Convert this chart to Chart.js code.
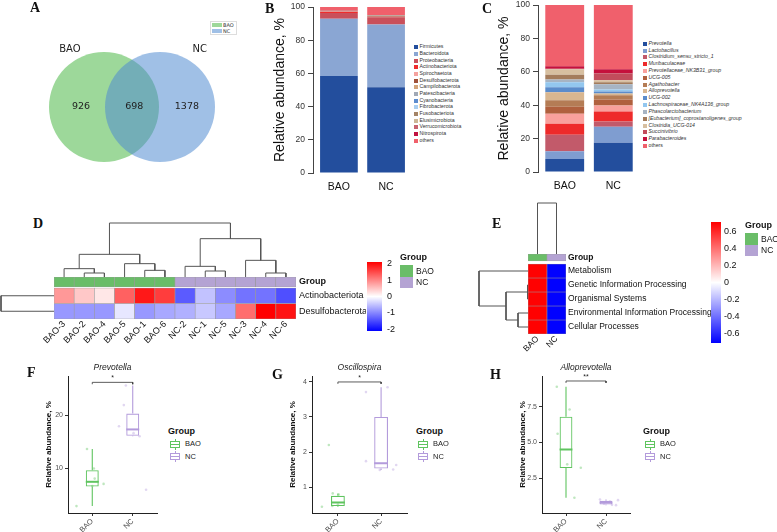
<!DOCTYPE html>
<html>
<head>
<meta charset="utf-8">
<title>BAO vs NC microbiota</title>
<script src="https://cdn.jsdelivr.net/npm/chart.js@4.4.1/dist/chart.umd.min.js"></script>
<style>
  html, body { margin: 0; padding: 0; background: #fff; }
  #stage { position: relative; width: 777px; height: 532px; overflow: hidden;
           font-family: "Liberation Sans", Arial, Helvetica, sans-serif; color: #222; }
  #stage canvas { position: absolute; }
</style>
</head>
<body>
<div id="stage"></div>
<script>
// ---------- data ----------
const groups = ["BAO", "NC"];

// A: shared / unique features
const vennSets = ["BAO", "NC"];
const vennCounts = [926, 698, 1378]; // BAO only, shared, NC only

// B: phylum composition (%)
const phyla = ["Firmicutes", "Bacteroidota", "Proteobacteria", "Actinobacteriota", "Spirochaetota",
  "Desulfobacterota", "Campilobacterota", "Patescibacteria", "Cyanobacteria", "Fibrobacterota",
  "Fusobacteriota", "Elusimicrobiota", "Verrucomicrobiota", "Nitrospirota", "others"];
const phylaBAO = [58.5, 34.4, 3.5, 0.8, 0.1, 0.1, 0.1, 0.05, 0.05, 0.05, 0.05, 0.05, 0.05, 0.05, 2.15];
const phylaNC = [51.6, 37.9, 4.3, 0.2, 0.1, 0.6, 0.2, 0.05, 0.05, 0.05, 0.05, 0.05, 0.05, 0.05, 4.75];
const phylaColors = ["#234e9d", "#8aa6d3", "#c9505b", "#ef2c2c", "#f5a29e", "#a0523a", "#d3a47a",
  "#a0a9b6", "#5d8dcf", "#a9cff1", "#a48466", "#ccb696", "#c8636f", "#c1123f", "#f0606b"];

// C: genus composition (%)
const genera = ["Prevotella", "Lactobacillus", "Clostridium_sensu_stricto_1", "Muribaculaceae",
  "Prevotellaceae_NK3B31_group", "UCG-005", "Agathobacter", "Alloprevotella", "UCG-002",
  "Lachnospiraceae_NK4A136_group", "Phascolarctobacterium", "[Eubacterium]_coprostanoligenes_group",
  "Clostridia_UCG-014", "Succinivibrio", "Parabacteroides", "others"];
const generaBAO = [7.8, 4.7, 9.8, 6.6, 6.0, 4.1, 4.0, 4.8, 3.0, 3.0, 1.6, 2.8, 3.4, 0.3, 1.4, 36.7];
const generaNC = [17.5, 9.6, 3.2, 6.0, 3.5, 3.6, 2.6, 1.0, 1.2, 1.2, 3.2, 1.2, 1.2, 4.0, 2.6, 38.4];
const generaColors = ["#234e9d", "#7f9dd0", "#c25a6a", "#ee2a2a", "#f9a09c", "#b0603e", "#b47c55",
  "#d8b690", "#5b8ccb", "#93c7ef", "#a7b4c3", "#a47c5c", "#d7bfa0", "#c24c5c", "#c5103c", "#f0606c"];

// D: phylum z-scores per sample
const dSamples = ["BAO-3", "BAO-2", "BAO-4", "BAO-5", "BAO-1", "BAO-6", "NC-2", "NC-1", "NC-5", "NC-3", "NC-4", "NC-6"];
const dSampleGroups = ["BAO", "BAO", "BAO", "BAO", "BAO", "BAO", "NC", "NC", "NC", "NC", "NC", "NC"];
const dTaxa = ["Actinobacteriota", "Desulfobacterota"];
const dActino = [0.85, 0.45, 0.2, 1.3, 1.9, 1.6, -1.35, -0.5, -0.95, -1.15, -1.15, -1.45];
const dDesulfo = [-0.85, -0.85, -0.85, -0.2, -0.85, -0.72, -0.65, -0.45, -0.72, 1.2, 2.1, 1.95];
// trees: [left, right, merge height]
const dColTree = [[["BAO-3", ["BAO-2", "BAO-4", 12], 25], ["BAO-5", ["BAO-1", "BAO-6", 20], 40], 68],
                  [["NC-2", ["NC-1", "NC-5", 18], 32], ["NC-3", ["NC-4", "NC-6", 12], 50], 115], 162];
const dRowTree = ["Actinobacteriota", "Desulfobacterota", 1];
const dScaleTicks = [-2, -1, 0, 1, 2];

// E: KEGG level 1 z-scores
const ePathways = ["Metabolism", "Genetic Information Processing", "Organismal Systems",
  "Environmental Information Processing", "Cellular Processes"];
const eBAO = [0.707, 0.707, 0.707, 0.707, 0.707];
const eNC = [-0.707, -0.707, -0.707, -0.707, -0.707];
const eRowTree = ["Metabolism", [["Genetic Information Processing", "Organismal Systems", 0.5],
                  ["Environmental Information Processing", "Cellular Processes", 10], 22], 49];
const eColTree = ["BAO", "NC", 1];
const eScaleTicks = [-0.6, -0.4, -0.2, 0, 0.2, 0.4, 0.6];

// F-H: relative abundance (%) per sample, and box stats [low whisker, q1, median, q3, high whisker]
const prevBAO = [2.8, 13.6, 9.9, 8.0, 7.0, 6.6];
const prevNC = [25.6, 21.9, 17.9, 16.0, 5.9, 16.6];
const prevBoxBAO = [2.8, 6.5, 7.4, 9.6, 13.6];
const prevBoxNC = [16.0, 16.1, 17.3, 20.3, 25.6];
const prevTicks = [10, 20];

const oscBAO = [0.44, 2.2, 0.82, 0.79, 0.46, 0.5];
const oscNC = [3.71, 3.85, 1.74, 1.49, 1.5, 1.63];
const oscBoxBAO = [0.44, 0.46, 0.56, 0.75, 0.82];
const oscBoxNC = [1.49, 1.53, 1.68, 3.0, 3.85];
const oscTicks = [1, 2, 3, 4];

const alloBAO = [8.9, 7.3, 5.6, 3.46, 3.22, 1.12];
const alloNC = [1.0, 0.6, 0.85, 0.7, 0.95, 0.62];
const alloBoxBAO = [1.12, 3.2, 4.5, 6.8, 8.9];
const alloBoxNC = [0.6, 0.64, 0.78, 0.9, 1.0];
const alloTicks = [2.5, 5.0, 7.5];
const alloTickLabels = ["2.5", "5.0", "7.5"];

// jitter offsets of the sample points (x units)
const prevJitter = [[-0.39, -0.13, 0.04, 0.06, 0.28, 0.0], [-0.17, -0.22, -0.34, 0.17, 0.33, 0.02]];
const oscJitter = [[-0.37, -0.21, -0.12, 0.02, -0.13, 0.0], [-0.35, 0.15, -0.35, -0.03, 0.28, 0.35]];
const alloJitter = [[-0.23, 0.09, -0.21, 0.03, 0.37, 0.21], [-0.15, 0.25, 0.1, -0.05, 0.3, 0.15]];

// ---------- helpers ----------
const GREEN = "#5fc45f", PURPLE = "#b39bdb";
const annColors = ["#6abd68", "#b4a3d3"];
const SANS = '"Liberation Sans", Arial, Helvetica, sans-serif';
const stage = document.getElementById("stage");

Chart.defaults.font.family = SANS;
Chart.defaults.color = "#222";
Chart.defaults.animation = false;
Chart.defaults.responsive = false;
Chart.defaults.plugins.legend.display = false;
Chart.defaults.plugins.tooltip.enabled = false;

function mount(area, pad) {
  const c = document.createElement("canvas");
  const w = Math.round(area[2] - area[0] + pad[0] + pad[2]);
  const h = Math.round(area[3] - area[1] + pad[1] + pad[3]);
  c.width = w; c.height = h;
  c.style.left = (area[0] - pad[0]) + "px";
  c.style.top = (area[1] - pad[1]) + "px";
  c.style.width = w + "px";
  c.style.height = h + "px";
  stage.appendChild(c);
  return c;
}

// force an axis to a fixed thickness so the plot area lands where we want it
function fixAxis(size) {
  return (scale) => {
    if (scale.isHorizontal()) scale.height = size; else scale.width = size;
    scale.paddingLeft = scale.paddingRight = scale.paddingTop = scale.paddingBottom = 0;
  };
}

function textLayer(items) {
  return {
    id: "textLayer",
    afterDatasetsDraw(chart) {
      const c = chart.ctx, xs = chart.scales.x, ys = chart.scales.y;
      items.forEach((t) => {
        c.save();
        c.font = t.font;
        c.fillStyle = t.color || "#222";
        c.textAlign = "center";
        c.textBaseline = "middle";
        c.fillText(t.text, xs.getPixelForValue(t.x) + (t.dx || 0), ys.getPixelForValue(t.y) + (t.dy || 0));
        c.restore();
      });
    }
  };
}

function fade(hex, a) {
  const n = parseInt(hex.slice(1), 16);
  return `rgba(${n >> 16},${(n >> 8) & 255},${n & 255},${a})`;
}

function heatColor(v, lim) {
  const t = Math.max(-1, Math.min(1, v / lim));
  if (t >= 0) { const g = Math.round(255 * (1 - t)); return `rgb(255,${g},${g})`; }
  const g = Math.round(255 * (1 + t));
  return `rgb(${g},${g},255)`;
}

function div(x, y, css, text) {
  const d = document.createElement("div");
  d.style.cssText = "position:absolute;left:" + x + "px;top:" + y + "px;" + css;
  if (text != null) d.textContent = text;
  stage.appendChild(d);
  return d;
}
function textAt(x, yMid, text, css) {
  return div(x, yMid, "transform:translateY(-50%);line-height:1;white-space:nowrap;" + (css || ""), text);
}

// ---------- A: Venn ----------
function drawVenn() {
  const area = [20, 51, 244, 163], pad = [20, 51, 16, 17];
  const cv = mount(area, pad);
  new Chart(cv, {
    type: "bubble",
    data: {
      datasets: [
        { label: vennSets[0], data: [{ x: 1, y: 0 }], radius: 55, hoverRadius: 0,
          backgroundColor: "rgba(116,199,111,0.7)", borderWidth: 0, order: 2, clip: false },
        { label: vennSets[1], data: [{ x: 2, y: 0 }], radius: 55, hoverRadius: 0,
          backgroundColor: "rgba(79,138,209,0.54)", borderWidth: 0, order: 1, clip: false }
      ]
    },
    options: {
      layout: { autoPadding: false, padding: { left: pad[0], top: pad[1], right: pad[2], bottom: pad[3] } },
      scales: { x: { display: false, min: -0.5, max: 3.5 }, y: { display: false, min: -1, max: 1 } }
    },
    plugins: [textLayer([
      { x: 0.39, y: 1.02, text: vennSets[0], font: '10px "DejaVu Sans", sans-serif' },
      { x: 2.71, y: 1.02, text: vennSets[1], font: '10px "DejaVu Sans", sans-serif' },
      { x: 0.59, y: 0, text: String(vennCounts[0]), font: '9.5px "DejaVu Sans", sans-serif' },
      { x: 1.54, y: 0, text: String(vennCounts[1]), font: '9.5px "DejaVu Sans", sans-serif' },
      { x: 2.48, y: 0, text: String(vennCounts[2]), font: '9.5px "DejaVu Sans", sans-serif' }
    ])]
  });
  div(210, 21, "width:27px;height:14px;border:0.5px solid #ddd;box-sizing:border-box;background:#fff");
  ["rgb(158,216,154)", "rgb(160,192,230)"].forEach((c, i) => {
    div(211.5, 23 + i * 6.3, `width:10px;height:3.8px;background:${c}`);
    textAt(223, 25 + i * 6.3, vennSets[i], "font:5px 'DejaVu Sans',sans-serif;color:#333");
  });
}

// ---------- B, C: stacked composition ----------
function stackChart(area, pad, names, a, b, colors, titlePad) {
  const cv = mount(area, pad);
  new Chart(cv, {
    type: "bar",
    data: {
      datasets: names.map((n, i) => ({
        label: n,
        data: [{ x: 1, y: a[i] }, { x: 2, y: b[i] }],
        backgroundColor: colors[i], borderWidth: 0,
        barPercentage: 0.8, categoryPercentage: 1
      }))
    },
    options: {
      layout: { autoPadding: false, padding: { left: 0, top: pad[1], right: pad[2], bottom: 0 } },
      scales: {
        x: {
          type: "linear", stacked: true, min: 0.45, max: 2.55, offset: false,
          afterBuildTicks: (s) => { s.ticks = groups.map((g, i) => ({ value: i + 1 })); },
          ticks: { callback: (v) => groups[Math.round(v) - 1], font: { size: 10.5 }, color: "#111", padding: 7.5 },
          grid: { display: false, drawTicks: false, offset: false }, border: { display: false },
          afterFit: fixAxis(pad[3])
        },
        y: {
          stacked: true, min: 0, max: 100,
          ticks: { stepSize: 20, font: { size: 8.5 }, color: "#333", padding: 3 },
          grid: { drawOnChartArea: false, tickLength: 5, color: "#444" },
          border: { color: "#444" },
          title: { display: true, text: "Relative abundance, %", font: { size: 14 }, color: "#111",
                   padding: { top: titlePad, bottom: 0 } },
          afterFit: fixAxis(pad[0])
        }
      }
    }
  });
}

function stackLegend(x, y0, step, names, colors, italic) {
  names.forEach((n, i) => {
    const y = y0 + i * step;
    div(x, y - 2, `width:4px;height:4px;background:${colors[i]}`);
    textAt(x + 5.5, y, n, "font-size:5.2px;color:#333;" + (italic && n !== "others" ? "font-style:italic;" : ""));
  });
}

// ---------- D, E: heatmaps ----------
function treeSegments(tree) {
  const leaves = [], segs = [];
  (function walk(node) {
    if (!Array.isArray(node)) { leaves.push(node); return { p: leaves.length - 1, h: 0 }; }
    const a = walk(node[0]), b = walk(node[1]), h = node[2];
    segs.push([[a.p, a.h], [a.p, h], [b.p, h], [b.p, b.h]]);
    return { p: (a.p + b.p) / 2, h };
  })(tree);
  return { segs, leaves };
}

function dendro(area, tree, horizontal) {
  const { segs, leaves } = treeSegments(tree);
  const cv = mount(area, [3, 3, 3, 3]);
  const pos = { display: false, min: -0.5, max: leaves.length - 0.5 };
  const hgt = { display: false, min: 0, max: tree[2] };
  new Chart(cv, {
    type: "scatter",
    data: {
      datasets: segs.map((s) => ({
        data: s.map(([p, h]) => horizontal ? { x: h, y: p } : { x: p, y: h }),
        showLine: true, borderColor: "#555", borderWidth: 1, pointRadius: 0, clip: false
      }))
    },
    options: {
      layout: { autoPadding: false, padding: 3 },
      scales: horizontal
        ? { x: Object.assign({ reverse: true }, hgt), y: Object.assign({ reverse: true }, pos) }
        : { x: pos, y: hgt }
    }
  });
}

function heatChart(o) {
  const n = o.rows.length;
  const top = n + o.gap + o.groupH;
  const datasets = [{
    label: "Group",
    data: o.cols.map(() => [n + o.gap, top]),
    backgroundColor: o.colGroups.map((g) => annColors[groups.indexOf(g)])
  }];
  o.rows.forEach((r, i) => datasets.push({
    label: r,
    data: o.cols.map(() => [n - 1 - i, n - i]),
    backgroundColor: o.matrix[i].map((v) => heatColor(v, o.lim))
  }));
  datasets.forEach((d) => Object.assign(d, {
    grouped: false, barPercentage: 1, categoryPercentage: 1,
    borderWidth: 0.6, borderColor: "#9a9a9a", borderSkipped: false
  }));
  const centers = o.rows.map((r, i) => n - 0.5 - i).concat([n + o.gap + o.groupH / 2]);
  const names = o.rows.concat(["Group"]);
  const cv = mount(o.area, o.pad);
  new Chart(cv, {
    type: "bar",
    data: { labels: o.cols, datasets },
    options: {
      layout: { autoPadding: false, padding: { left: o.pad[0], top: o.pad[1], right: 0, bottom: 0 } },
      scales: {
        x: {
          ticks: { minRotation: 45, maxRotation: 45, autoSkip: false, font: { size: o.font }, color: "#111", padding: 0 },
          grid: { display: false, drawTicks: false }, border: { display: false },
          afterFit: fixAxis(o.pad[3])
        },
        y: {
          position: "right", min: 0, max: top,
          afterBuildTicks: (s) => { s.ticks = centers.map((v) => ({ value: v })); },
          ticks: {
            autoSkip: false, padding: o.labelPad, color: "#111",
            callback: (v, i) => names[i],
            font: (ctx) => ({ size: o.font, weight: ctx.index === names.length - 1 ? "bold" : "normal" })
          },
          grid: { display: false, drawTicks: false }, border: { display: false },
          afterFit: fixAxis(o.pad[2])
        }
      }
    }
  });
}

function colorBar(area, pad, lim, ticks, labelPad) {
  const cv = mount(area, pad);
  new Chart(cv, {
    type: "bar",
    data: {
      labels: [""],
      datasets: [{
        data: [[-lim, lim]], barPercentage: 1, categoryPercentage: 1, borderWidth: 0,
        backgroundColor: (ctx) => {
          const chart = ctx.chart, s = chart.scales.y;
          if (!chart.chartArea || !s) return "#fff";
          const g = chart.ctx.createLinearGradient(0, s.getPixelForValue(-lim), 0, s.getPixelForValue(lim));
          g.addColorStop(0, "rgb(0,0,255)");
          g.addColorStop(0.5, "rgb(255,255,255)");
          g.addColorStop(1, "rgb(255,0,0)");
          return g;
        }
      }]
    },
    options: {
      layout: { autoPadding: false, padding: { left: pad[0], top: pad[1], right: 0, bottom: pad[3] } },
      scales: {
        x: { display: false },
        y: {
          position: "right", min: -lim, max: lim,
          afterBuildTicks: (s) => { s.ticks = ticks.map((v) => ({ value: v })); },
          ticks: { autoSkip: false, font: { size: 9 }, color: "#111", padding: labelPad, callback: (v) => String(v) },
          grid: { display: false, drawTicks: false }, border: { display: false },
          afterFit: fixAxis(pad[2])
        }
      }
    }
  });
}

function groupLegend(x, y) {
  textAt(x, y, "Group", "font:bold 9px " + SANS + ";color:#111");
  groups.forEach((g, i) => {
    div(x, y + 8 + i * 11.5, `width:13px;height:11.5px;background:${annColors[i]}`);
    textAt(x + 16, y + 13.8 + i * 11.5, g, "font-size:8.5px;color:#111");
  });
}

// ---------- F-H: box plots ----------
function boxChart(o) {
  const pad = [30, 16, 4, 19];
  const cv = mount(o.area, pad);
  const colors = [GREEN, PURPLE];
  const half = 0.16, drop = (o.yMax - o.yMin) * 0.014;
  const seg = (pts, color, w) => ({
    type: "scatter", data: pts, showLine: true, borderColor: color, borderWidth: w,
    pointRadius: 0, clip: false, order: 2
  });
  const ds = [{
    type: "bar",
    data: o.boxes.map((b, g) => ({ x: g + 1, y: [b[1], b[3]] })),
    backgroundColor: "rgba(255,255,255,0)", borderColor: colors, borderWidth: 1.1,
    borderSkipped: false, barPercentage: 0.32, categoryPercentage: 1, order: 1
  }];
  o.boxes.forEach((b, g) => {
    const x = g + 1;
    ds.push(seg([{ x, y: b[0] }, { x, y: b[1] }], colors[g], 1.1));
    ds.push(seg([{ x, y: b[3] }, { x, y: b[4] }], colors[g], 1.1));
    ds.push(seg([{ x: x - half, y: b[2] }, { x: x + half, y: b[2] }], colors[g], 2));
  });
  o.points.forEach((p, g) => ds.push({
    type: "scatter", data: p.map((v, i) => ({ x: g + 1 + o.jitter[g][i], y: v })),
    pointRadius: 1.3, backgroundColor: fade(colors[g], 0.4), borderWidth: 0, order: 3
  }));
  ds.push(seg([{ x: 1, y: o.bracket - drop }, { x: 1, y: o.bracket }, { x: 2, y: o.bracket }, { x: 2, y: o.bracket - drop }], "#333", 0.8));

  new Chart(cv, {
    type: "bar",
    data: { datasets: ds },
    options: {
      layout: { autoPadding: false, padding: { left: 0, top: pad[1], right: pad[2], bottom: 0 } },
      scales: {
        x: {
          type: "linear", min: 0.4, max: 2.6, offset: false,
          afterBuildTicks: (s) => { s.ticks = groups.map((g, i) => ({ value: i + 1 })); },
          ticks: { callback: (v) => groups[Math.round(v) - 1], minRotation: 45, maxRotation: 45, autoSkip: false,
                   font: { size: 7.5 }, color: "#4d4d4d", padding: 1 },
          grid: { drawOnChartArea: false, tickLength: 3, color: "#333", offset: false }, border: { color: "#222" },
          afterFit: fixAxis(pad[3])
        },
        y: {
          min: o.yMin, max: o.yMax,
          afterBuildTicks: (s) => { s.ticks = o.ticks.map((v) => ({ value: v })); },
          ticks: { callback: (v, i) => o.tickLabels[i], font: { size: 7 }, color: "#4d4d4d", padding: 2 },
          grid: { drawOnChartArea: false, tickLength: 3, color: "#333" }, border: { color: "#222" },
          title: { display: true, text: "Relative abundance, %", font: { size: 8, weight: "bold" }, color: "#111",
                   padding: { top: 6, bottom: 0 } },
          afterFit: fixAxis(pad[0])
        }
      }
    },
    plugins: [textLayer([
      { x: 1.5, y: o.yMax, dy: -8, text: o.title, font: "italic 8.5px " + SANS },
      { x: 1.5, y: o.bracket, dy: -4, text: o.sig, font: "7px " + SANS }
    ])]
  });
}

function boxLegend(x) {
  textAt(x, 431, "Group", "font:bold 9px " + SANS + ";color:#111");
  [GREEN, PURPLE].forEach((c, i) => {
    const y = 444 + i * 12.5;
    div(x + 2, y - 3.5, `width:8px;height:5px;border:1px solid ${c}`);
    div(x + 2, y - 0.5, `width:10px;height:1px;background:${c}`);
    div(x + 6.5, y - 5.5, `width:1px;height:2px;background:${c}`);
    div(x + 6.5, y + 3.5, `width:1px;height:2px;background:${c}`);
    textAt(x + 17, y, groups[i], "font-size:7.5px;color:#222");
  });
}

// ---------- build ----------
drawVenn();

stackChart([313, 7, 412, 173], [42, 6, 2, 22], phyla, phylaBAO, phylaNC, phylaColors, 1);
stackLegend(414, 47.3, 6.67, phyla, phylaColors, false);
stackChart([538, 5, 640, 172], [42, 5, 3, 22], genera, generaBAO, generaNC, generaColors, 0);
stackLegend(643, 43.7, 6.82, genera, generaColors, true);

dendro([54, 223, 296, 277], dColTree, false);
dendro([1, 288, 54, 319], dRowTree, true);
heatChart({
  area: [54, 277, 296, 319], pad: [18, 2, 70, 40], cols: dSamples, colGroups: dSampleGroups,
  rows: dTaxa, matrix: [dActino, dDesulfo], lim: 2.1, gap: 0.065, groupH: 0.645, font: 9, labelPad: 3
});
colorBar([367, 262, 382, 331], [2, 6, 25, 6], 2.1, dScaleTicks, 5);
groupLegend(400, 257);

dendro([528, 203, 566, 254], eColTree, false);
dendro([479, 264, 528, 334], eRowTree, true);
heatChart({
  area: [528, 254, 566, 334], pad: [14, 2, 150, 30], cols: groups, colGroups: groups,
  rows: ePathways, matrix: ePathways.map((p, i) => [eBAO[i], eNC[i]]), lim: 0.71,
  gap: 0.214, groupH: 0.5, font: 8.5, labelPad: 2
});
colorBar([711, 222, 721, 343], [2, 6, 30, 6], 0.71, eScaleTicks, 3);
groupLegend(745, 225);

boxChart({
  area: [68, 376, 157, 513], title: "Prevotella", sig: "*",
  boxes: [prevBoxBAO, prevBoxNC], points: [prevBAO, prevNC], jitter: prevJitter,
  yMin: 1.5, yMax: 27.4, ticks: prevTicks, tickLabels: prevTicks.map(String), bracket: 26.2
});
boxLegend(168);
boxChart({
  area: [312, 376, 407, 513], title: "Oscillospira", sig: "*",
  boxes: [oscBoxBAO, oscBoxNC], points: [oscBAO, oscNC], jitter: oscJitter,
  yMin: 0.26, yMax: 4.17, ticks: oscTicks, tickLabels: oscTicks.map(String), bracket: 4.0
});
boxLegend(416);
boxChart({
  area: [542, 376, 630, 513], title: "Alloprevotella", sig: "**",
  boxes: [alloBoxBAO, alloBoxNC], points: [alloBAO, alloNC], jitter: alloJitter,
  yMin: 0.05, yMax: 9.65, ticks: alloTicks, tickLabels: alloTickLabels, bracket: 9.3
});
boxLegend(643);

// panel letters
const tagCss = "font:bold 14px 'Liberation Serif','Times New Roman',serif;color:#111";
[["A", 30, 7.5], ["B", 265, 9], ["C", 482, 9], ["D", 33, 223.5], ["E", 492, 224],
 ["F", 27, 372.5], ["G", 272, 375], ["H", 490, 375]].forEach(([t, x, y]) => textAt(x, y, t, tagCss));
</script>
</body>
</html>
